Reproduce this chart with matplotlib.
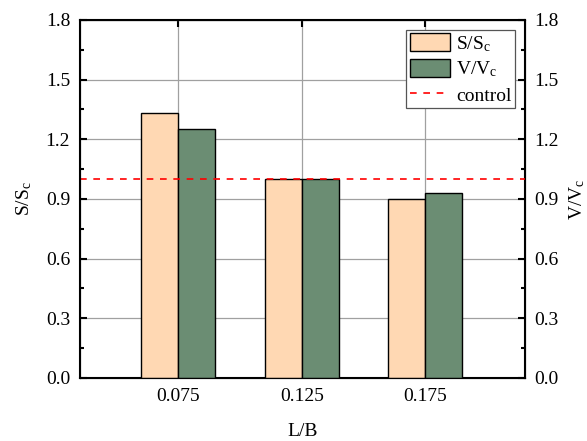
import numpy as np
import matplotlib
matplotlib.use('Agg')
import matplotlib.pyplot as plt

plt.rcParams['font.family'] = 'Liberation Serif'
plt.rcParams['mathtext.fontset'] = 'custom'
plt.rcParams['mathtext.rm'] = 'Liberation Serif'
plt.rcParams['mathtext.it'] = 'Liberation Serif:italic'

lb = [0.075, 0.125, 0.175]
s_ratio = [1.33, 1.0, 0.90]
v_ratio = [1.25, 1.0, 0.93]
control = 1.0
yticks = [0.0, 0.3, 0.6, 0.9, 1.2, 1.5, 1.8]

fig = plt.figure(figsize=(5.87, 4.41), dpi=100)
ax = fig.add_axes([0.136, 0.143, 0.758, 0.812])

w = 0.015
x = np.array(lb)
b1 = ax.bar(x - w/2, s_ratio, w, color='#FFD8B3', edgecolor='black', linewidth=1, label=r'$\mathregular{S/S_c}$', zorder=3)
b2 = ax.bar(x + w/2, v_ratio, w, color='#6B8D73', edgecolor='black', linewidth=1, label=r'$\mathregular{V/V_c}$', zorder=3)
ln = ax.axhline(control, color='red', linestyle='--', linewidth=1.2, dashes=(4, 4), label='control', zorder=4)

ax.set_xlim(0.035, 0.2155)
ax.set_ylim(0, 1.8)
ax.set_xticks(lb)
ax.set_xticklabels([str(v) for v in lb])
ax.set_yticks(yticks)
ax.set_yticklabels([f'{v:.1f}' for v in yticks])
ax.set_yticks(np.arange(0.15, 1.8, 0.3), minor=True)
ax.grid(True, color='#a0a0a0', linewidth=0.9, zorder=0)
ax.set_axisbelow(True)
ax.tick_params(axis='both', which='major', direction='in', length=5, width=1.5, labelsize=14, top=True, pad=7)
ax.tick_params(axis='y', which='minor', direction='in', length=3, width=1.5)
for sp in ax.spines.values():
    sp.set_linewidth(1.5)

ax.set_xlabel('L/B', fontsize=14, labelpad=13)
ax.set_ylabel(r'$\mathregular{S/S_c}$', fontsize=14, labelpad=8)

ax2 = ax.twinx()
ax2.set_ylim(0, 1.8)
ax2.set_yticks(yticks)
ax2.set_yticklabels([f'{v:.1f}' for v in yticks])
ax2.set_yticks(np.arange(0.15, 1.8, 0.3), minor=True)
ax2.tick_params(axis='y', which='major', direction='in', length=5, width=1.5, labelsize=14, pad=7)
ax2.tick_params(axis='y', which='minor', direction='in', length=3, width=1.5)
ax2.set_ylabel(r'$\mathregular{V/V_c}$', fontsize=14, labelpad=6)

leg = ax.legend([b1, b2, ln], [b1.get_label(), b2.get_label(), ln.get_label()],
                loc='upper right', fontsize=14, fancybox=False, edgecolor='#555555',
                framealpha=1, borderaxespad=0.5, handlelength=2.05, handleheight=1.0,
                labelspacing=0.3, handletextpad=0.3, borderpad=0.2)
leg.get_frame().set_linewidth(0.9)

fig.savefig('out.png', dpi=100)
